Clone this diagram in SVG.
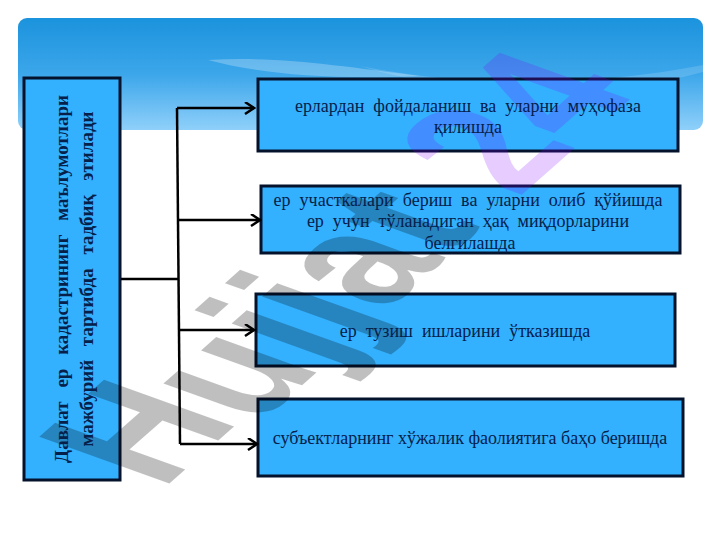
<svg xmlns="http://www.w3.org/2000/svg" width="720" height="540" viewBox="0 0 720 540">
<style>
.box{fill:#33b1ff;stroke:#04122c;stroke-width:3}
.t{font-family:"Liberation Serif",serif;font-size:18px;fill:#06204a;text-anchor:middle;word-spacing:4.5px}
.b{font-weight:bold;font-size:19px;word-spacing:9px}
.c{fill:none;stroke:#000;stroke-width:2.5}
.wm{font-family:"Liberation Sans",sans-serif;font-weight:bold;font-size:100px}
</style>
<defs>
<linearGradient id="sky" x1="0" y1="0" x2="0" y2="1"><stop offset="0" stop-color="#1b93dd"/><stop offset="0.5" stop-color="#3ca6ea"/><stop offset="1" stop-color="#8fd0fa"/></linearGradient>
<marker id="a" markerWidth="12" markerHeight="14" refX="10" refY="6" orient="auto" markerUnits="userSpaceOnUse"><path d="M1 0L10 6L1 12" fill="none" stroke="#000" stroke-width="2.5"/></marker>
</defs>
<rect width="720" height="540" fill="#fff"/>
<rect x="18" y="18" width="685" height="112" rx="9" fill="url(#sky)"/>
<path d="M208 60C280 56 340 66 420 76C330 80 260 74 208 60Z" fill="#fff" fill-opacity=".25"/>
<path d="M360 66C480 90 600 85 703 65V72C600 100 470 100 360 66Z" fill="#fff" fill-opacity=".15"/>
<g id="n1"><rect class="box" x="258" y="79" width="420" height="72"/></g>
<g id="n2"><rect class="box" x="261" y="186" width="419" height="67"/></g>
<g id="n3"><rect class="box" x="256" y="294" width="419" height="72"/></g>
<g id="n4"><rect class="box" x="258" y="399" width="425" height="77"/></g>
<g id="n0"><rect class="box" x="24" y="78" width="96" height="402"/></g>
<g id="watermark">
<text class="wm" transform="matrix(1.1 -.97 1.89 .68 162 490)" fill="#000" fill-opacity=".25">H<tspan dy="8">ujjat</tspan></text>
<text class="wm" transform="matrix(1.1 -.97 1.89 .68 518 198)" fill="#8000ff" fill-opacity=".2">24</text>
</g>
<g id="labels">
<text class="t" x="468" y="112">ерлардан фойдаланиш ва уларни муҳофаза</text><text class="t" x="468" y="133">қилишда</text>
<text class="t" x="468" y="206">ер участкалари бериш ва уларни олиб қўйишда</text><text class="t" x="468" y="227">ер учун тўланадиган ҳақ миқдорларини</text><text class="t" x="470" y="249">белгилашда</text>
<text class="t" x="465" y="337">ер тузиш ишларини ўтказишда</text>
<text class="t" x="470" y="444" style="word-spacing:0">субъектларнинг хўжалик фаолиятига баҳо беришда</text>
<text class="t b" transform="translate(68 279) rotate(-90)">Давлат ер кадастрининг маълумотлари</text><text class="t b" transform="translate(93 279) rotate(-90)">мажбурий тартибда тадбиқ этилади</text>
</g>
<g id="connectors"><path class="c" d="M121 279H178"/><path class="c" d="M177 108L180 444"/><path class="c" d="M177 108H254" marker-end="url(#a)"/><path class="c" d="M178 220H260" marker-end="url(#a)"/><path class="c" d="M178 330H254" marker-end="url(#a)"/><path class="c" d="M180 444H257" marker-end="url(#a)"/></g>
</svg>
